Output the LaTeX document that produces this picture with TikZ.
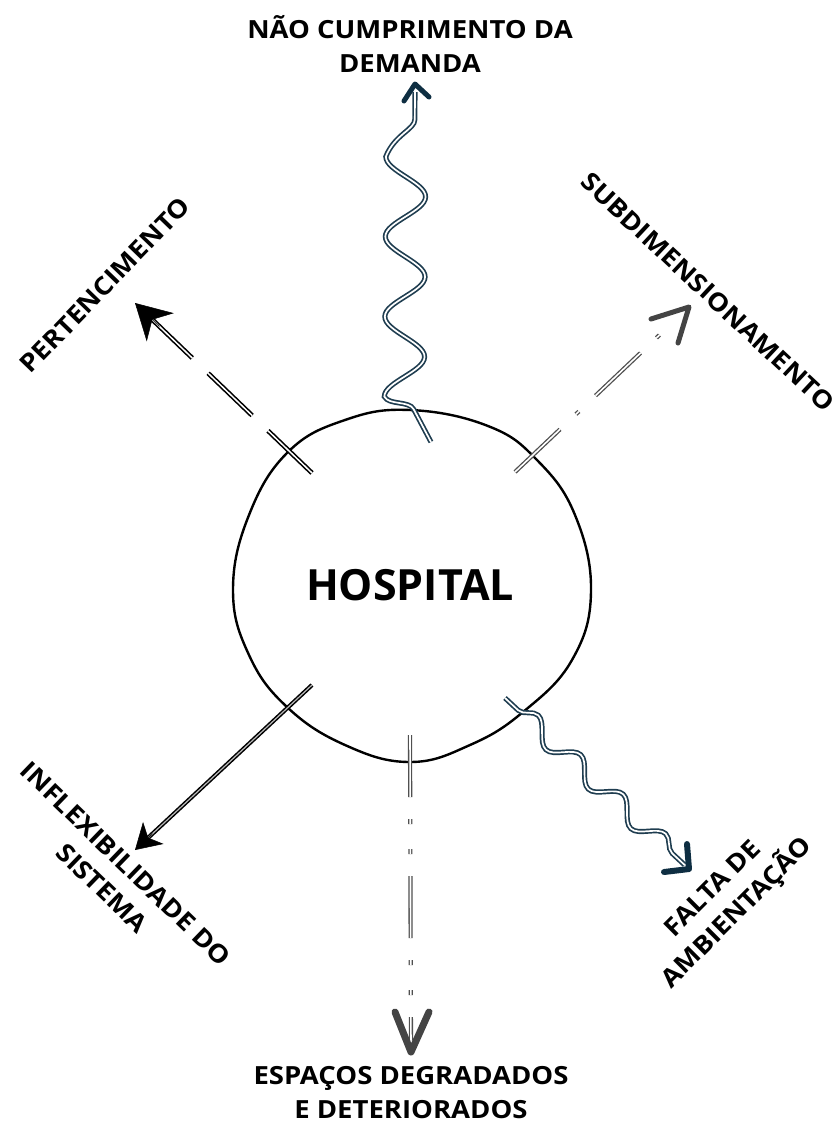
\documentclass[tikz,border=0pt]{standalone}
\usepackage{fontspec}
\setmainfont{Open Sans}
\newfontfamily\lblfont{Open Sans}[FakeStretch=1.1]
\usetikzlibrary{decorations.pathmorphing,calc,arrows.meta}
\definecolor{wavec}{HTML}{1F3D50}
\definecolor{chevc}{HTML}{0E2E42}
\definecolor{grayc}{HTML}{505050}
\definecolor{chevg}{HTML}{444444}
\begin{document}
\begin{tikzpicture}[x=1pt,y=-1pt,
  lbl/.style={font=\lblfont\bfseries\fontsize{25}{34}\selectfont, align=center, inner sep=0pt},
  wavyline/.style={draw=wavec, line width=1.7pt, double=white, double distance=1.7pt, decorate},
  chev/.style={line width=5pt, line cap=round, line join=round},
  blackdbl/.style={draw=black, line width=1.6pt, double=white, double distance=1.5pt},
  solidbl/.style={draw=black, line width=1.5pt, double=gray!55, double distance=1.2pt},
  graydbl/.style={draw=grayc, line width=1.3pt, double=white, double distance=1.6pt},
  blob/.style={draw=black, line width=2.4pt}
]
\useasboundingbox (0,0) rectangle (838,1125);

% hospital outline
\draw[blob] plot[smooth cycle, tension=0.7] coordinates {
 (410,410) (488,426) (537,460) (575,515) (591,592) (572,660) (523,712)
 (470,745) (410,762) (345,745) (287,707) (249,655) (233,590) (249,515) (288,452) (345,420)};
\node[font=\bfseries\fontsize{43}{43}\selectfont, inner sep=0pt] (hosp) at (410,585) {HOSPITAL};

% coordinates
\coordinate (t0) at (431,442);
\coordinate (t1) at (413,408);
\coordinate (t2) at (415,92);
\coordinate (ttip) at (415,84);

\coordinate (p0) at (312,473);
\coordinate (ptip) at (135,303);

\coordinate (s0) at (515,472);
\coordinate (stip) at (689,307);

\coordinate (i0) at (312,685);
\coordinate (itip) at (135,850);

\coordinate (e0) at (410,735);
\coordinate (etip) at (411,1052);

\coordinate (f0) at (505,698);
\coordinate (ftip) at (689,869);

% top wavy arrow
\draw[wavyline, decoration={snake, segment length=80pt, amplitude=20pt, pre length=37pt, post length=14pt}]
  (t0) -- (t1) -- (t2);
\draw[chev, chevc] ($(ttip)+(-11,17)$) -- (ttip) -- ($(ttip)+(14,13)$);

% PERTENCIMENTO dashed
\draw[blackdbl, dash pattern=on 61pt off 22pt] (p0) -- ($(ptip)!22pt!(p0)$);
\draw[black, line width=0.5pt, -{Stealth[length=35pt,width=39pt,inset=11pt]}] ($(ptip)!34pt!(p0)$) -- (ptip);

% SUBDIMENSIONAMENTO dash-dot
\draw[graydbl, dash pattern=on 62pt off 22pt on 4pt off 23pt] (s0) -- ($(stip)!22pt!(s0)$);
\draw[chev, chevg] ($(stip)+(-38,12)$) -- (stip) -- ($(stip)+(-11,36)$);

% INFLEXIBILIDADE solid
\draw[solidbl] (i0) -- ($(itip)!18pt!(i0)$);
\draw[black, line width=0.5pt, -{Stealth[length=25pt,width=30pt,inset=7pt]}] ($(itip)!24pt!(i0)$) -- (itip);

% ESPACOS dash-dot-dot
\draw[graydbl, dash pattern=on 62pt off 22pt on 5pt off 25pt on 5pt off 22pt] (e0) -- ($(etip)!12pt!(e0)$);
\draw[chev, chevg, line width=7pt] ($(etip)+(-16,-40)$) -- (etip) -- ($(etip)+(18,-40)$);

% FALTA wavy
\draw[wavyline, decoration={snake, segment length=58pt, amplitude=10pt, pre length=18pt, post length=12pt}]
  (f0) -- ($(ftip)!6pt!(f0)$);
\draw[chev, chevc, line width=6pt] ($(ftip)+(-2,-25)$) -- (ftip) -- ($(ftip)+(-25,3)$);

% labels
\node[lbl] (lt) at (410,44) {NÃO CUMPRIMENTO DA\\DEMANDA};
\node[lbl, rotate=46] (lp) at (105,285) {PERTENCIMENTO};
\node[lbl, rotate=-43] (ls) at (708,292) {SUBDIMENSIONAMENTO};
\node[lbl, rotate=-44] (li) at (114,876) {INFLEXIBILIDADE DO\\SISTEMA};
\node[lbl, rotate=45] (lf) at (726,902) {FALTA DE\\AMBIENTAÇÃO};
\node[lbl] (le) at (411,1093) {ESPAÇOS DEGRADADOS\\E DETERIORADOS};
\end{tikzpicture}
\end{document}
